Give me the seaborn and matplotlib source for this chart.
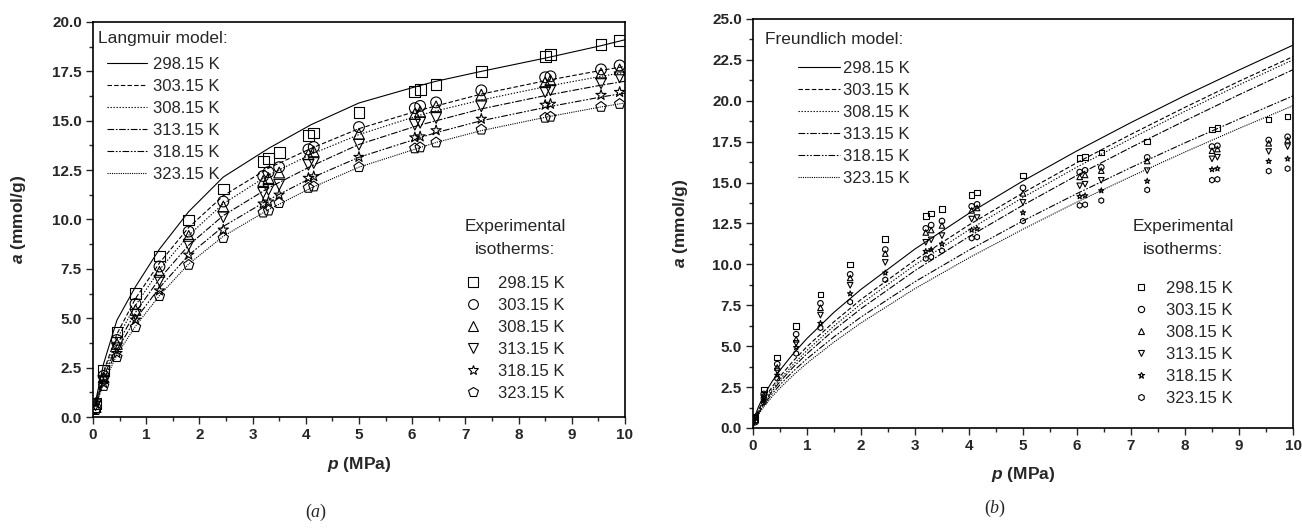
import matplotlib
matplotlib.use("Agg")
import numpy as np
import pandas as pd
import matplotlib.pyplot as plt
from matplotlib.lines import Line2D
from matplotlib.ticker import MultipleLocator
import seaborn as sns

# ---- data ----
temps = ['298.15 K', '303.15 K', '308.15 K', '313.15 K', '318.15 K', '323.15 K']

# experimental isotherms
p_exp = [0.05, 0.2, 0.45, 0.8, 1.25, 1.8, 2.45, 3.2, 3.3, 3.5, 4.05, 4.15,
         5.0, 6.05, 6.15, 6.45, 7.3, 8.5, 8.6, 9.55, 9.9]
a_298 = [0.7, 2.35, 4.3, 6.25, 8.15, 9.98, 11.55, 12.95, 13.1, 13.4, 14.25, 14.38,
         15.42, 16.49, 16.57, 16.83, 17.5, 18.25, 18.35, 18.85, 19.05]
a_303 = [0.45, 2.08, 3.9, 5.73, 7.62, 9.39, 10.91, 12.2, 12.4, 12.65, 13.55, 13.67,
         14.68, 15.64, 15.75, 15.93, 16.54, 17.2, 17.25, 17.6, 17.8]
a_308 = [0.5, 2.0, 3.7, 5.42, 7.35, 9.17, 10.66, 11.95, 12.1, 12.38, 13.3, 13.45,
         14.34, 15.35, 15.47, 15.73, 16.32, 16.95, 17.05, 17.4, 17.6]
a_313 = [0.6, 1.84, 3.48, 5.17, 6.9, 8.72, 10.12, 11.35, 11.5, 11.76, 12.77, 12.86,
         13.79, 14.8, 14.9, 15.14, 15.73, 16.45, 16.55, 16.9, 17.2]
a_318 = [0.7, 1.71, 3.23, 4.92, 6.4, 8.21, 9.48, 10.8, 10.9, 11.25, 12.1, 12.18,
         13.16, 14.15, 14.2, 14.51, 15.09, 15.8, 15.85, 16.3, 16.45]
a_323 = [0.35, 1.57, 3.03, 4.55, 6.12, 7.7, 9.06, 10.35, 10.45, 10.83, 11.6, 11.67,
         12.65, 13.6, 13.65, 13.9, 14.55, 15.15, 15.2, 15.7, 15.85]

# Langmuir model curves
p_lang = [0.05, 0.2, 0.45, 0.8, 1.25, 1.8, 2.45, 3.3, 4.1, 5.0, 6.1, 6.45, 7.3, 8.55, 9.55, 10.0]
lang_298 = [0.8, 2.7, 4.9, 6.6, 8.5, 10.4, 12.15, 13.6, 14.8, 15.9, 16.75, 17.0, 17.5, 18.2, 18.8, 19.1]
lang_303 = [0.7, 2.3, 4.2, 6.0, 7.8, 9.6, 11.2, 12.6, 13.6, 14.6, 15.5, 15.75, 16.35, 17.05, 17.55, 17.75]
lang_308 = [0.65, 2.15, 3.95, 5.65, 7.45, 9.2, 10.8, 12.25, 13.3, 14.3, 15.25, 15.5, 16.05, 16.75, 17.25, 17.45]
lang_313 = [0.6, 2.0, 3.65, 5.3, 7.0, 8.7, 10.2, 11.6, 12.7, 13.8, 14.75, 15.0, 15.6, 16.3, 16.8, 17.0]
lang_318 = [0.55, 1.85, 3.4, 4.95, 6.55, 8.2, 9.65, 11.0, 12.1, 13.15, 14.1, 14.4, 15.0, 15.7, 16.2, 16.4]
lang_323 = [0.5, 1.7, 3.15, 4.6, 6.15, 7.75, 9.15, 10.5, 11.6, 12.65, 13.6, 13.9, 14.5, 15.2, 15.7, 15.9]

# Freundlich model curves
p_freu = [0, 0.05, 0.1, 0.2, 0.35, 0.5, 0.75, 1, 1.5, 2, 3, 4, 5, 6, 7, 8, 9, 10]
freu_298 = [0, 0.83, 1.28, 1.98, 2.82, 3.53, 4.56, 5.47, 7.07, 8.47, 10.94, 13.12, 15.1, 16.94, 18.67, 20.32, 21.88, 23.4]
freu_303 = [0, 0.69, 1.09, 1.72, 2.49, 3.15, 4.11, 4.97, 6.49, 7.85, 10.26, 12.41, 14.37, 16.22, 17.95, 19.6, 21.19, 22.7]
freu_308 = [0, 0.62, 1.0, 1.6, 2.33, 2.97, 3.9, 4.74, 6.23, 7.58, 9.97, 12.11, 14.09, 15.95, 17.69, 19.36, 20.97, 22.5]
freu_313 = [0, 0.59, 0.94, 1.51, 2.22, 2.83, 3.73, 4.54, 5.99, 7.29, 9.62, 11.7, 13.62, 15.44, 17.15, 18.78, 20.37, 21.9]
freu_318 = [0, 0.55, 0.88, 1.41, 2.07, 2.64, 3.48, 4.23, 5.57, 6.78, 8.94, 10.87, 12.66, 14.33, 15.92, 17.43, 18.88, 20.3]
freu_323 = [0, 0.49, 0.8, 1.29, 1.9, 2.44, 3.24, 3.96, 5.25, 6.42, 8.52, 10.4, 12.15, 13.81, 15.37, 16.87, 18.31, 19.7]

exp_vals = [a_298, a_303, a_308, a_313, a_318, a_323]
lang_vals = [lang_298, lang_303, lang_308, lang_313, lang_318, lang_323]
freu_vals = [freu_298, freu_303, freu_308, freu_313, freu_318, freu_323]


def long_df(p, series):
    rows = []
    for t, vals in zip(temps, series):
        for x, y in zip(p, vals):
            rows.append((x, y, t))
    return pd.DataFrame(rows, columns=['p', 'a', 'T'])


df_exp = long_df(p_exp, exp_vals)
df_lang = long_df(p_lang, lang_vals)
df_freu = long_df(p_freu, freu_vals)

sns.set_style('ticks')
plt.rcParams['font.family'] = ['Liberation Sans', 'DejaVu Sans']
plt.rcParams['mathtext.fontset'] = 'custom'
plt.rcParams['mathtext.bfit'] = 'Liberation Sans:italic:bold'
plt.rcParams['mathtext.it'] = 'Liberation Serif:italic'
plt.rcParams['mathtext.rm'] = 'Liberation Serif'

dashes = {'298.15 K': '', '303.15 K': (4, 2), '308.15 K': (1.2, 1.5),
          '313.15 K': (6, 1.5, 1.5, 1.5), '318.15 K': (6, 1.5, 1.5, 1.5, 1.5, 1.5),
          '323.15 K': (1, 1)}
marks_a = dict(zip(temps, ['s', 'o', '^', 'v', '*', 'p']))
marks_b = dict(zip(temps, ['s', 'o', '^', 'v', '*', 'h']))

fig = plt.figure(figsize=(13.02, 5.3), dpi=100)
ax1 = fig.add_axes([0.0714, 0.2132, 0.4086, 0.7453])
ax2 = fig.add_axes([0.5783, 0.1925, 0.4148, 0.7717])


def draw(ax, df_model, marks, msize, ymax):
    sns.lineplot(data=df_model, x='p', y='a', style='T', dashes=dashes,
                 color='black', linewidth=0.8, legend=False, ax=ax, zorder=2)
    sns.scatterplot(data=df_exp, x='p', y='a', style='T', markers=marks,
                    s=msize, color='black', edgecolor='black', linewidth=0.8,
                    legend=False, ax=ax, zorder=3)
    for c in ax.collections:
        c.set_facecolor('none')
        c.set_edgecolor('black')
    ax.set_xlim(0, 10)
    ax.set_ylim(0, ymax)
    ax.xaxis.set_major_locator(MultipleLocator(1))
    ax.xaxis.set_minor_locator(MultipleLocator(0.5))
    ax.yaxis.set_major_locator(MultipleLocator(2.5))
    ax.yaxis.set_minor_locator(MultipleLocator(1.25))
    ax.yaxis.set_major_formatter(matplotlib.ticker.FormatStrFormatter('%.1f'))
    ax.tick_params(which='major', direction='out', length=5, width=1,
                   labelsize=11, pad=3)
    ax.tick_params(which='minor', direction='out', length=3, width=1)
    for lab in ax.get_xticklabels() + ax.get_yticklabels():
        lab.set_fontweight('bold')
    for sp in ax.spines.values():
        sp.set_visible(True)
        sp.set_linewidth(1.2)
        sp.set_color('black')
    ax.set_xlabel(r'$\mathbfit{p}$ (MPa)', fontsize=12.5, fontweight='bold')
    ax.set_ylabel(r'$\mathbfit{a}$ (mmol/g)', fontsize=12.5, fontweight='bold')


draw(ax1, df_lang, marks_a, 60, 20)
draw(ax2, df_freu, marks_b, 16, 25)
ax1.xaxis.set_label_coords(0.5, -0.095)
ax1.yaxis.set_label_coords(-0.122, 0.5)
ax2.xaxis.set_label_coords(0.5, -0.09)
ax2.yaxis.set_label_coords(-0.117, 0.5)

W, H = 1302, 530


def fx(px):
    return px / W


def fy(py):
    return 1 - py / H


line_handles = [Line2D([], [], color='black', lw=0.8,
                       ls='-' if dashes[t] == '' else (0, dashes[t])) for t in temps]


def mark_handles(marks, ms):
    return [Line2D([], [], ls='', marker=marks[t], ms=ms, mfc='none', mec='black',
                   mew=0.8) for t in temps]


leg_kw = dict(loc='upper left', frameon=False, fontsize=12, labelspacing=0.42,
              borderpad=0, borderaxespad=0)

# model legends
fig.text(fx(98), fy(39), 'Langmuir model:', fontsize=12.5, va='center', ha='left')
fig.legend(line_handles, temps, bbox_to_anchor=(fx(107), fy(57)),
           handlelength=2.4, handletextpad=0.36, **leg_kw)
fig.text(fx(765), fy(39), 'Freundlich model:', fontsize=12.5, va='center', ha='left')
fig.legend(line_handles, temps, bbox_to_anchor=(fx(798), fy(61)),
           handlelength=2.5, handletextpad=0.2, **leg_kw)

# experimental legends
fig.text(fx(515), fy(226), 'Experimental', fontsize=12.5, va='center', ha='center')
fig.text(fx(515), fy(249), 'isotherms:', fontsize=12.5, va='center', ha='center')
fig.legend(mark_handles(marks_a, 7), temps, bbox_to_anchor=(fx(465), fy(276)),
           handlelength=1.0, handletextpad=1.0, **leg_kw)
fig.text(fx(1183), fy(227), 'Experimental', fontsize=12.5, va='center', ha='center')
fig.text(fx(1183), fy(250), 'isotherms:', fontsize=12.5, va='center', ha='center')
fig.legend(mark_handles(marks_b, 4.5), temps, bbox_to_anchor=(fx(1133), fy(281)),
           handlelength=1.0, handletextpad=1.0, **leg_kw)

# panel captions
fig.text(fx(316), fy(512), r'($\mathit{a}$)', fontsize=13, ha='center', va='center',
         family='Liberation Serif')
fig.text(fx(995), fy(508), r'($\mathit{b}$)', fontsize=13, ha='center', va='center',
         family='Liberation Serif')

fig.savefig('out.png', dpi=100)
